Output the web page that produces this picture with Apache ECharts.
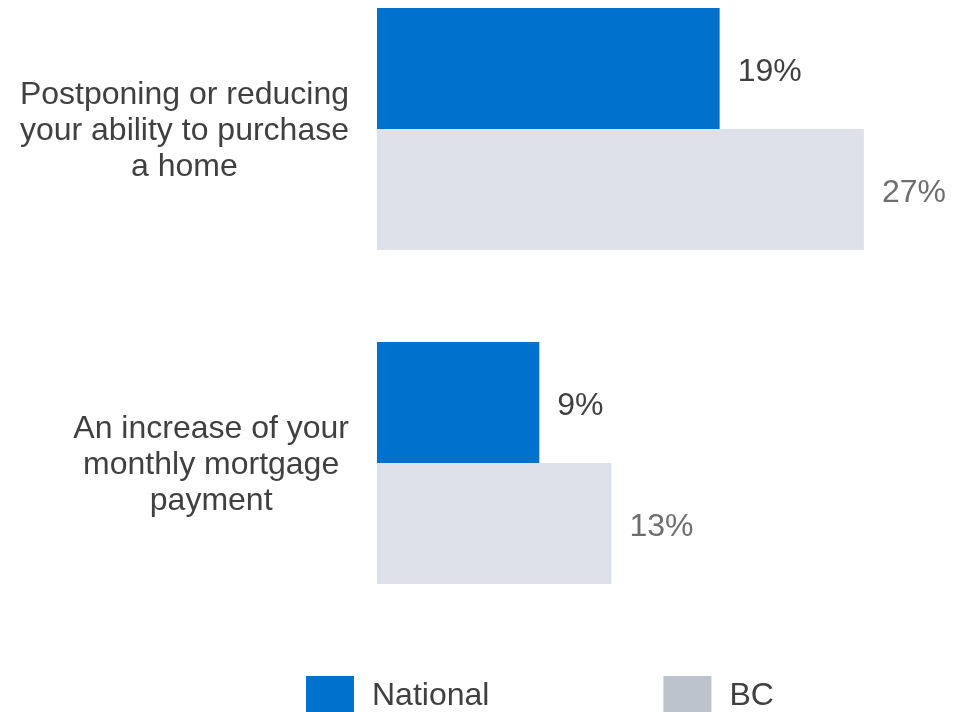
<!DOCTYPE html>
<html>
<head>
<meta charset="utf-8">
<script src="https://cdn.jsdelivr.net/npm/echarts@6/dist/echarts.min.js"></script>
<style>
  html, body { margin: 0; padding: 0; background: #ffffff; }
  #chart { width: 972px; height: 712px; }
</style>
</head>
<body>
<div id="chart"></div>
<script>
// Survey items (each line of a label on its own)
const categories = [
  ['Postponing or reducing', 'your ability to purchase', 'a home'],
  ['An increase of your', 'monthly mortgage', 'payment']
];
const seriesNames = ['National', 'BC'];
const nationalValues = [19, 9];
const bcValues = [27, 13];

const FONT = "'Liberation Sans', Arial, Helvetica, sans-serif";
const categoryKeys = categories.map(lines => lines.join('\n'));

const chart = echarts.init(document.getElementById('chart'), null, { renderer: 'canvas' });

chart.setOption({
  animation: false,
  backgroundColor: '#ffffff',
  grid: {
    left: 377,
    top: -38,
    width: 541,
    height: 668,
    containLabel: false,
    outerBoundsMode: 'none'
  },
  xAxis: {
    type: 'value',
    min: 0,
    max: 30,
    show: false
  },
  yAxis: {
    type: 'category',
    inverse: true,
    data: categoryKeys,
    axisLine: { show: false },
    axisTick: { show: false },
    splitLine: { show: false },
    axisLabel: {
      margin: 28,
      align: 'right',
      padding: [4, 0, 0, 0],
      fontFamily: FONT,
      fontSize: 32,
      color: '#404040',
      lineHeight: 36,
      formatter: function (value) {
        return value.split('\n').map(l => '{c|' + l + '}').join('\n');
      },
      rich: {
        c: {
          align: 'center',
          fontFamily: FONT,
          fontSize: 32,
          lineHeight: 36,
          color: '#404040'
        }
      }
    }
  },
  legend: {
    left: 306,
    top: 676,
    padding: 0,
    itemWidth: 48,
    itemHeight: 40,
    itemGap: 174,
    icon: 'rect',
    selectedMode: false,
    textStyle: {
      fontFamily: FONT,
      fontSize: 32,
      color: '#404040',
      padding: [11, 0, 0, 13]
    },
    data: [
      { name: seriesNames[0], itemStyle: { color: '#0072CE' } },
      { name: seriesNames[1], itemStyle: { color: '#BCC3CD' } }
    ]
  },
  series: [
    {
      name: seriesNames[0],
      type: 'bar',
      data: nationalValues,
      barWidth: 121,
      barGap: '0%',
      itemStyle: { color: '#0072CE' },
      label: {
        show: true,
        position: 'right',
        distance: 18,
        offset: [0, 4],
        formatter: '{c}%',
        fontFamily: FONT,
        fontSize: 32,
        color: '#404040'
      }
    },
    {
      name: seriesNames[1],
      type: 'bar',
      data: bcValues,
      barWidth: 121,
      barGap: '0%',
      itemStyle: { color: '#DEE1EA' },
      label: {
        show: true,
        position: 'right',
        distance: 18,
        offset: [0, 4],
        formatter: '{c}%',
        fontFamily: FONT,
        fontSize: 32,
        color: '#6E6E6E'
      }
    }
  ]
});
</script>
</body>
</html>
